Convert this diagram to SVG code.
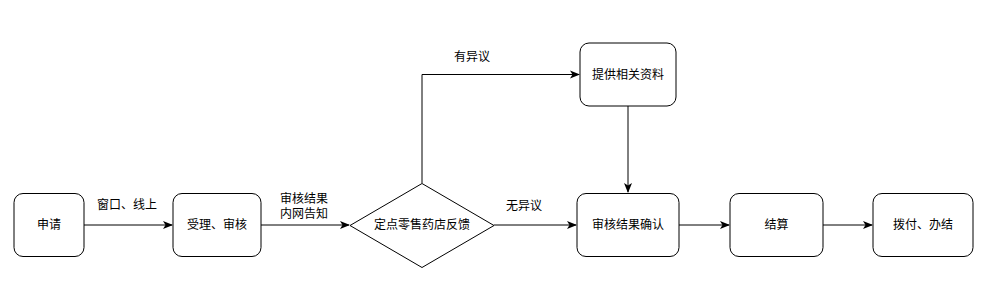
<svg xmlns="http://www.w3.org/2000/svg" width="1000" height="287" viewBox="0 0 1000 287">
<defs>
<marker id="arr" viewBox="0 0 10 10" refX="9" refY="5" markerWidth="10" markerHeight="10" markerUnits="userSpaceOnUse" orient="auto">
<path d="M0,1 L10,5 L0,9 L2.5,5 Z" fill="#000"/>
</marker>
</defs>
<style>
.box{fill:#fff;stroke:#000;stroke-width:1}
.t{font-family:"Liberation Sans","Noto Sans CJK SC",sans-serif;font-size:12px;fill:#000;text-anchor:middle;dominant-baseline:central}
.e{fill:none;stroke:#000;stroke-width:1;marker-end:url(#arr)}
</style>
<rect width="1000" height="287" fill="#fff"/>
<g id="connectors">
<path class="e" d="M84,225 L172,225"/>
<path class="e" d="M261,225 L349,225"/>
<path class="e" d="M494,225 L576,225"/>
<path class="e" d="M422,183 L422,74.5 L579,74.5"/>
<path class="e" d="M628,106 L628,192"/>
<path class="e" d="M679,225 L729,225"/>
<path class="e" d="M823,225 L872,225"/>
<text class="t" x="127" y="205">窗口、线上</text>
<text class="t" x="304" y="199">审核结果</text>
<text class="t" x="304" y="214">内网告知</text>
<text class="t" x="524" y="206">无异议</text>
<text class="t" x="472" y="57">有异议</text>
</g>
<g id="n1"><rect class="box" x="14" y="193.5" width="70" height="63" rx="9"/><text class="t" x="49" y="225">申请</text></g>
<g id="n2"><rect class="box" x="173" y="193.5" width="88" height="63" rx="9"/><text class="t" x="217" y="225">受理、审核</text></g>
<g id="n3"><path class="box" d="M422,183.5 L494,225.5 L422,267.5 L350,225.5 Z"/><text class="t" x="422" y="225">定点零售药店反馈</text></g>
<g id="n4"><rect class="box" x="580" y="43" width="96" height="63" rx="9"/><text class="t" x="628" y="74.5">提供相关资料</text></g>
<g id="n5"><rect class="box" x="577" y="193.5" width="102" height="63" rx="9"/><text class="t" x="628" y="225">审核结果确认</text></g>
<g id="n6"><rect class="box" x="730" y="193.5" width="93" height="63" rx="9"/><text class="t" x="776.5" y="225">结算</text></g>
<g id="n7"><rect class="box" x="873" y="193.5" width="100" height="63" rx="9"/><text class="t" x="923" y="225">拨付、办结</text></g>
</svg>
